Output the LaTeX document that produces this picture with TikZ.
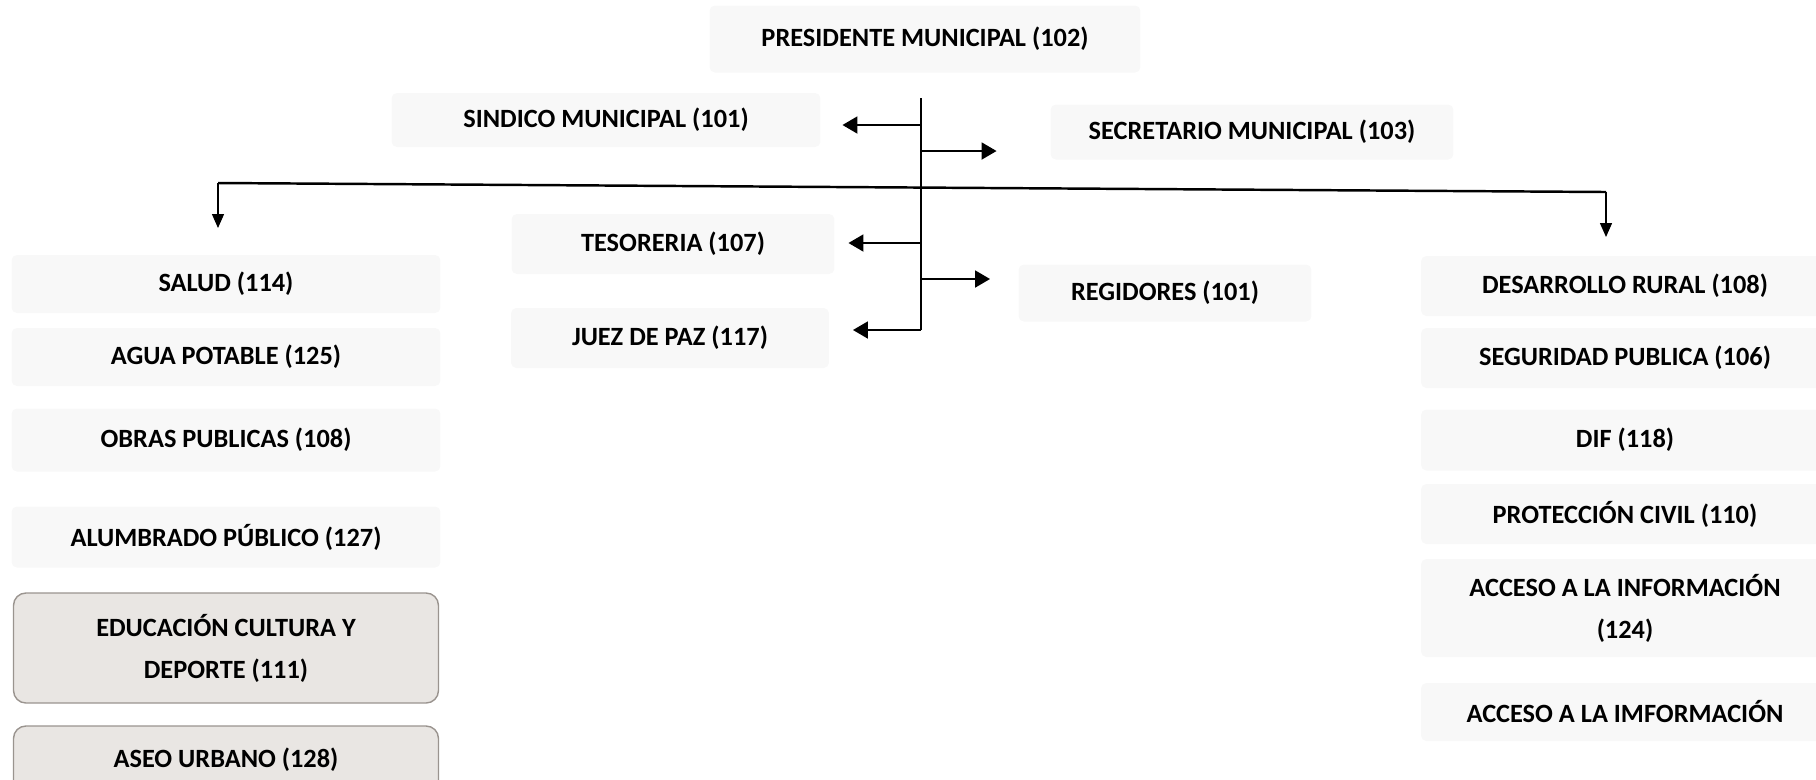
\documentclass[tikz,border=0pt]{standalone}
\usepackage{fontspec}
\setmainfont{Carlito}
\usetikzlibrary{arrows.meta}
\definecolor{boxgray}{HTML}{F8F8F8}
\definecolor{scangray}{HTML}{E9E6E3}
\definecolor{scanrim}{HTML}{9A948F}

\begin{document}
\begin{tikzpicture}[x=0.02cm, y=-0.02cm,
  every node/.style={font=\bfseries\fontsize{15}{24}\selectfont, align=center, inner sep=0pt, outer sep=0pt},
  unit/.style={fill=boxgray, rounded corners=3pt},
  dark unit/.style={fill=scangray, draw=scanrim, line width=0.8pt, rounded corners=7pt},
  lcol/.style={unit, minimum width=8.58cm},
  rcol/.style={unit, minimum width=8.16cm},
  trunk/.style={line width=1.1pt},
  spine/.style={line width=1.4pt},
  branch/.style={line width=1.1pt, -{Triangle[length=0.3cm, width=0.34cm]}},
  drop/.style={line width=0.75pt, -{Triangle[length=0.28cm, width=0.24cm]}}]
\useasboundingbox (0,0) rectangle (1816,779);

\node[unit, minimum width=8.62cm, minimum height=1.34cm] (pres) at (925,39) {PRESIDENTE MUNICIPAL (102)};
\node[unit, minimum width=8.58cm, minimum height=1.08cm] (sind) at (606,120) {SINDICO MUNICIPAL (101)};
\node[unit, minimum width=8.06cm, minimum height=1.10cm] (secr) at (1252,132) {SECRETARIO MUNICIPAL (103)};
\node[unit, minimum width=6.46cm, minimum height=1.20cm] (teso) at (673,244) {TESORERIA (107)};
\node[unit, minimum width=5.86cm, minimum height=1.14cm] (regi) at (1165,293) {REGIDORES (101)};
\node[unit, minimum width=6.36cm, minimum height=1.20cm] (juez) at (670,338) {JUEZ DE PAZ (117)};

% left column
\node[lcol, minimum height=1.16cm] (salud) at (226,284) {SALUD (114)};
\node[lcol, minimum height=1.16cm] (agua) at (226,357) {AGUA POTABLE (125)};
\node[lcol, minimum height=1.26cm] (obras) at (226,440) {OBRAS PUBLICAS (108)};
\node[lcol, minimum height=1.22cm] (alumb) at (226,537) {ALUMBRADO PÚBLICO (127)};
\node[dark unit, minimum width=8.5cm, minimum height=2.2cm] (educ) at (226,648) {EDUCACIÓN CULTURA Y\\DEPORTE (111)};
\node[dark unit, minimum width=8.5cm, minimum height=1.36cm] (aseo) at (226,760) {ASEO URBANO (128)};

% right column
\node[rcol, minimum height=1.20cm] (desa) at (1625,286) {DESARROLLO RURAL (108)};
\node[rcol, minimum height=1.20cm] (segu) at (1625,358) {SEGURIDAD PUBLICA (106)};
\node[rcol, minimum height=1.22cm] (dif) at (1625,440) {DIF (118)};
\node[rcol, minimum height=1.20cm] (prot) at (1625,514) {PROTECCIÓN CIVIL (110)};
\node[rcol, minimum height=1.96cm] (acc) at (1625,608) {ACCESO A LA INFORMACIÓN\\(124)};
\node[rcol, minimum height=1.16cm] (accb) at (1625,712) {ACCESO A LA IMFORMACIÓN};

% trunk and branches
\coordinate (top) at (921,98);
\coordinate (bot) at (921,330);
\draw[trunk] (top) -- (bot);
\coordinate (b1) at (921,125);
\coordinate (b2) at (921,151);
\coordinate (b3) at (921,243);
\coordinate (b4) at (921,279);
\draw[branch, shorten >=0.44cm] (b1) -- (b1 -| sind.east);
\draw[branch, shorten >=1.08cm] (b2) -- (b2 -| secr.west);
\draw[branch, shorten >=0.28cm] (b3) -- (b3 -| teso.east);
\draw[branch, shorten >=0.57cm] (b4) -- (b4 -| regi.west);
\draw[branch, shorten >=0.48cm] (bot) -- (bot -| juez.east);

% cross line
\coordinate (hl) at (218,183);
\coordinate (hr) at (1606,192);
\draw[spine] (hl) -- (hr);
\draw[drop, shorten >=0.54cm] (hl) -- (hl |- salud.north);
\draw[drop, shorten >=0.38cm] (hr) -- (hr |- desa.north);
\end{tikzpicture}
\end{document}
